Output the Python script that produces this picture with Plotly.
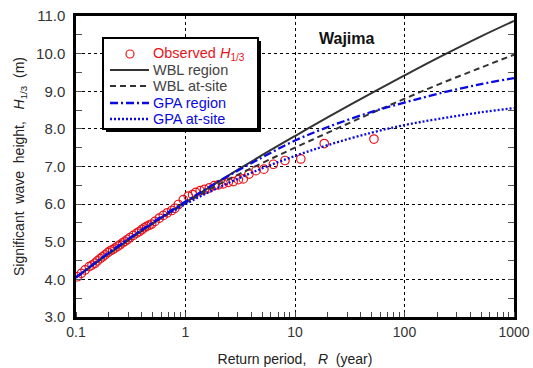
import plotly.graph_objects as go

# Observed significant wave heights with their plotting-position return periods
obs_R = [0.103, 0.112, 0.121, 0.132, 0.140, 0.149, 0.157, 0.166, 0.175, 0.184,
         0.195, 0.205, 0.216, 0.227, 0.240, 0.252, 0.266, 0.280, 0.295, 0.311,
         0.334, 0.358, 0.378, 0.398, 0.420, 0.442, 0.466, 0.491, 0.526, 0.577,
         0.627, 0.682, 0.748, 0.800, 0.860, 0.955, 1.06, 1.16, 1.24, 1.36,
         1.49, 1.65, 1.83, 2.00, 2.21, 2.46, 2.73, 3.04, 3.37, 3.80,
         4.40, 5.20, 6.34, 8.10, 11.3, 18.5, 52.6]
obs_H = [4.07, 4.16, 4.25, 4.34, 4.38, 4.43, 4.49, 4.55, 4.60, 4.65,
         4.71, 4.76, 4.79, 4.83, 4.88, 4.92, 4.97, 5.01, 5.06, 5.11,
         5.17, 5.23, 5.27, 5.32, 5.37, 5.41, 5.44, 5.47, 5.54, 5.63,
         5.70, 5.77, 5.83, 5.89, 5.99, 6.12, 6.21, 6.25, 6.31, 6.36,
         6.39, 6.43, 6.49, 6.51, 6.54, 6.58, 6.60, 6.65, 6.67, 6.80,
         6.89, 6.93, 7.06, 7.16, 7.20, 7.61, 7.73]

# Return periods at which the fitted curves are evaluated
curve_R = [0.1, 0.2, 0.5, 1, 2, 5, 10, 20, 50, 100, 200, 500, 1000]
wbl_region = [4.05, 4.68, 5.48, 6.05, 6.60, 7.30, 7.81, 8.31, 8.95, 9.42, 9.88, 10.46, 10.87]
wbl_site = [4.05, 4.70, 5.49, 6.03, 6.52, 7.09, 7.50, 7.90, 8.42, 8.80, 9.17, 9.63, 9.97]
gpa_region = [4.05, 4.71, 5.51, 6.07, 6.60, 7.24, 7.69, 8.05, 8.45, 8.70, 8.93, 9.19, 9.35]
gpa_site = [4.05, 4.71, 5.49, 6.00, 6.44, 6.95, 7.28, 7.57, 7.90, 8.10, 8.26, 8.44, 8.55]

x_ticks = [0.1, 1, 10, 100, 1000]
x_labels = ["0.1", "1", "10", "100", "1000"]
y_ticks = [3, 4, 5, 6, 7, 8, 9, 10, 11]

FONT = "Arial, Liberation Sans, sans-serif"
RED = "#e8131b"
GRAY = "#333333"
BLUE = "#0a0ae0"

W, H = 533, 368
ML, MR, MT, MB = 76, 19, 16, 51
PW, PH = W - ML - MR, H - MT - MB


def px(x):
    return (x - ML) / PW


def py(y):
    return 1 - (y - MT) / PH


fig = go.Figure()

fig.add_trace(go.Scatter(
    x=obs_R, y=obs_H, mode="markers", name="Observed",
    marker=dict(symbol="circle-open", size=8.5, color=RED, line=dict(width=1.2, color=RED)),
))
fig.add_trace(go.Scatter(
    x=curve_R, y=wbl_region, mode="lines", line_shape="spline", name="WBL region",
    line=dict(color=GRAY, width=2),
))
fig.add_trace(go.Scatter(
    x=curve_R, y=wbl_site, mode="lines", line_shape="spline", name="WBL at-site",
    line=dict(color=GRAY, width=2, dash="6px,4px"),
))
fig.add_trace(go.Scatter(
    x=curve_R, y=gpa_region, mode="lines", line_shape="spline", name="GPA region",
    line=dict(color=BLUE, width=2.3, dash="8px,3px,2px,3px"),
))
fig.add_trace(go.Scatter(
    x=curve_R, y=gpa_site, mode="lines", line_shape="spline", name="GPA at-site",
    line=dict(color=BLUE, width=2.3, dash="2px,2px"),
))

# Legend: framed box with drop shadow, line samples and coloured labels
shapes = [
    dict(type="rect", xref="paper", yref="paper",
         x0=px(106), x1=px(261), y0=py(132), y1=py(41),
         fillcolor="black", line=dict(width=0), layer="above"),
    dict(type="rect", xref="paper", yref="paper",
         x0=px(103), x1=px(258), y0=py(129), y1=py(38),
         fillcolor="white", line=dict(color="black", width=2), layer="above"),
    dict(type="circle", xref="paper", yref="paper",
         x0=px(126), x1=px(134), y0=py(58), y1=py(50),
         line=dict(color=RED, width=1.2), layer="above"),
]
legend_rows = [
    (54, 'Observed <i>H</i><sub>1/3</sub>', RED, None),
    (70, "WBL region", "#444444", dict(color=GRAY, width=2)),
    (86, "WBL at-site", "#444444", dict(color=GRAY, width=2, dash="6px,4px")),
    (103, "GPA region", BLUE, dict(color=BLUE, width=2.3, dash="8px,3px,2px,3px")),
    (119, "GPA at-site", BLUE, dict(color=BLUE, width=2.3, dash="2px,2px")),
]
for ypx, label, tcolor, lstyle in legend_rows:
    if lstyle is not None:
        shapes.append(dict(type="line", xref="paper", yref="paper",
                           x0=px(110), x1=px(149), y0=py(ypx), y1=py(ypx),
                           line=lstyle, layer="above"))
    fig.add_annotation(text=label, xref="paper", yref="paper",
                       x=px(151), y=py(ypx), xanchor="left", yanchor="middle",
                       showarrow=False, font=dict(family=FONT, size=14.5, color=tcolor))

fig.add_annotation(text="<b>Wajima</b>", xref="paper", yref="paper",
                   x=px(347), y=py(38), xanchor="center", yanchor="middle",
                   showarrow=False, font=dict(family=FONT, size=16, color="#111111"))

nb = "\u00a0"
fig.update_layout(
    width=W, height=H,
    margin=dict(l=ML, r=MR, t=MT, b=MB, autoexpand=False),
    paper_bgcolor="white", plot_bgcolor="white",
    font=dict(family=FONT, size=14, color="#333333"),
    showlegend=False,
    shapes=shapes,
    xaxis=dict(
        type="log", range=[-1, 3], automargin=False,
        tickvals=x_ticks, ticktext=x_labels,
        ticks="", showline=True, linewidth=2.5, linecolor="black", mirror=True,
        showgrid=True, gridcolor="black", gridwidth=1, griddash="3px,3px",
        minor=dict(ticks="inside", ticklen=5, tickcolor="#444444", tickwidth=1,
                   dtick="D1", showgrid=False),
        title=dict(text=f"Return period,{nb*3}<i>R</i>{nb*2}(year)", standoff=16,
                   font=dict(family=FONT, size=14, color="#222222")),
        tickfont=dict(family=FONT, size=14, color="#333333"),
        ticklabelstandoff=0,
        zeroline=False,
    ),
    yaxis=dict(
        range=[3, 11], tickvals=y_ticks, tickformat=".1f", automargin=False,
        ticks="inside", ticklen=6, tickcolor="#555555",
        showline=True, linewidth=2.5, linecolor="black", mirror="ticks",
        showgrid=True, gridcolor="black", gridwidth=1, griddash="3px,3px",
        minor=dict(ticks="inside", ticklen=6, tickcolor="#555555", dtick=0.5,
                   showgrid=False),
        title=dict(text=f"Significant{nb*2}wave{nb*2}height,{nb*3}<i>H</i><sub>1/3</sub>{nb*2}(m)",
                   standoff=9, font=dict(family=FONT, size=14, color="#222222")),
        tickfont=dict(family=FONT, size=15, color="#333333"),
        ticklabelstandoff=5,
        zeroline=False,
    ),
)

fig.write_html("out.html")
